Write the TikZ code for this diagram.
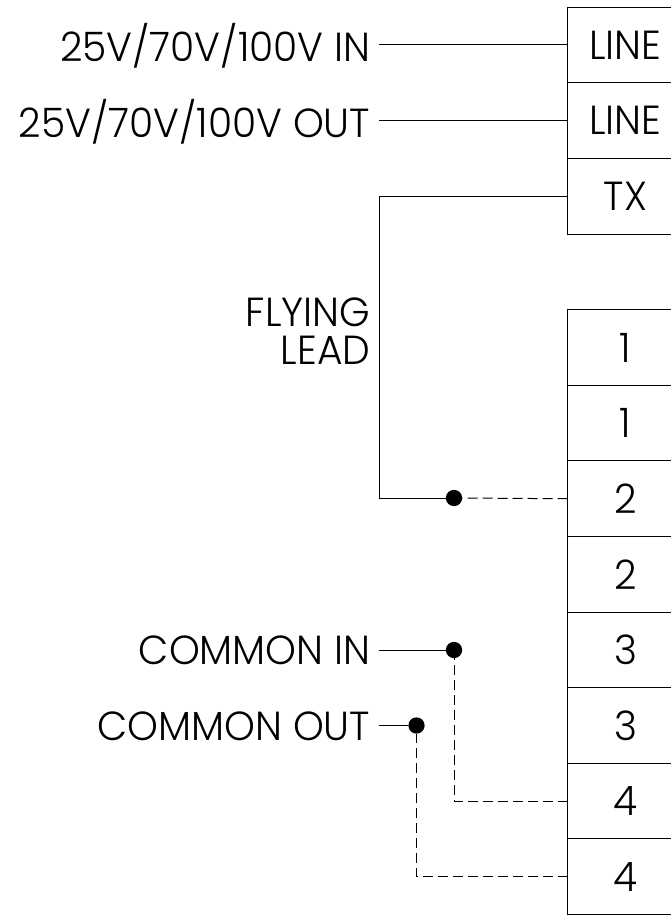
\documentclass[tikz,border=0pt]{standalone}
\usepackage{fontspec}
\setmainfont{Poppins Light}[FakeStretch=0.965]
\usetikzlibrary{positioning}
\newcommand{\termfont}{\fontsize{30.5}{28.5}\selectfont}
\tikzset{
    termbox/.style={draw, line width=0.75pt, outer sep=0pt, minimum width=3.06cm, minimum height=1.996cm, inner sep=0pt, font=\termfont},
    wirelabel/.style={font=\termfont, inner sep=0pt, anchor=base east, align=right},
    wire/.style={line width=0.75pt},
    link/.style={line width=0.75pt, dash pattern=on 7.5pt off 3.75pt},
    joint/.style={circle, fill=black, inner sep=0pt, minimum size=0.43cm}
}
\begin{document}
\begin{tikzpicture}[x=0.0264cm,y=-0.0264cm]
    \useasboundingbox (0,0) rectangle (671,915);

    % Terminal blocks
    \node[termbox] (lineA) at (625.5,45) {LINE};
    \node[termbox, below=0pt of lineA] (lineB) {LINE};
    \node[termbox, below=0pt of lineB] (tx) {TX};
    \node[termbox] (oneA) at (625.5,347.5) {1};
    \node[termbox, below=0pt of oneA] (oneB) {1};
    \node[termbox, below=0pt of oneB] (twoA) {2};
    \node[termbox, below=0pt of twoA] (twoB) {2};
    \node[termbox, below=0pt of twoB] (threeA) {3};
    \node[termbox, below=0pt of threeA] (threeB) {3};
    \node[termbox, below=0pt of threeB] (fourA) {4};
    \node[termbox, below=0pt of fourA] (fourB) {4};

    % Labels
    \node[wirelabel] (inlabel) at (370.5,62) {25V/70V/100V IN};
    \node[wirelabel] (outlabel) at (370.5,138) {25V/70V/100V OUT};
    \node[wirelabel, anchor=east] (flying) at (370.5,331) {FLYING\\LEAD};
    \node[wirelabel] (comin) at (370.5,664) {COMMON IN};
    \node[wirelabel] (comout) at (370.5,740) {COMMON OUT};

    % Joints
    \coordinate (rail) at (379,0);
    \node[joint] (jflying) at (454,498) {};
    \node[joint] (jin) at (454,650) {};
    \node[joint] (jout) at (416.5,725.5) {};

    % Wires
    \draw[wire] (rail |- lineA.west) -- (lineA.west);
    \draw[wire] (rail |- lineB.west) -- (lineB.west);
    \draw[wire] (tx.west) -- (rail |- tx.west) |- (jflying);
    \draw[wire] (rail |- jin) -- (jin);
    \draw[wire] (rail |- jout) -- (jout);
    \draw[link] (twoA.west) -- (jflying);
    \draw[link] (fourA.west) -| (jin);
    \draw[link] (fourB.west) -| (jout);
\end{tikzpicture}
\end{document}
